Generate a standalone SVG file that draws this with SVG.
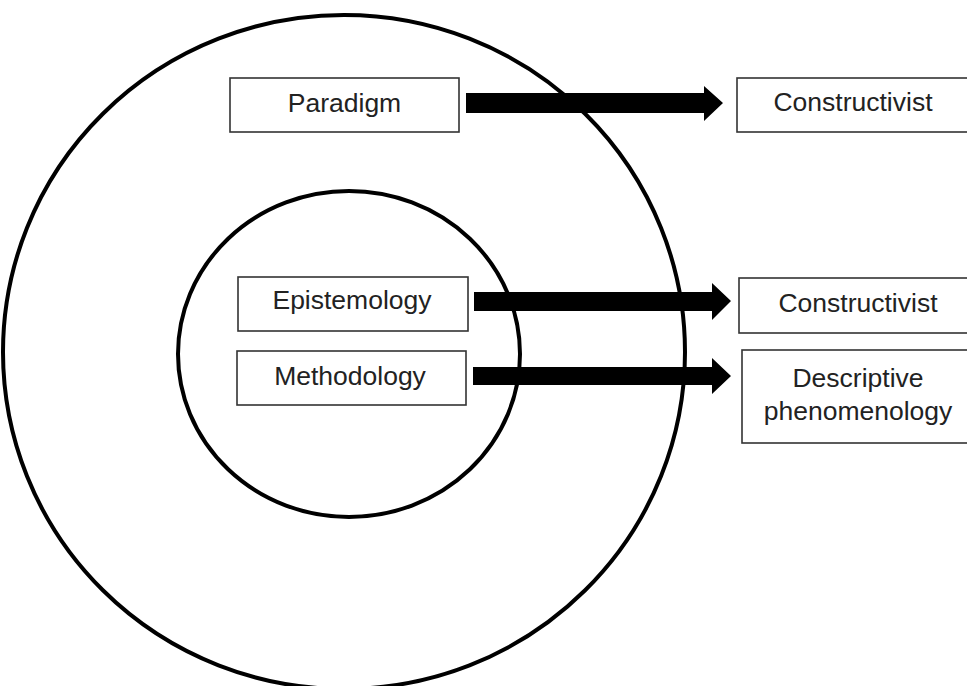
<svg xmlns="http://www.w3.org/2000/svg" width="967" height="686" viewBox="0 0 967 686">
<style>
.ring{fill:none;stroke:#000;stroke-width:4}
.box{fill:#fff;stroke:#333;stroke-width:1.6}
.lbl{font-family:"Liberation Sans",Arial,sans-serif;font-size:26.5px;fill:#222;text-anchor:middle}
.arr{fill:#000}
</style>
<rect width="967" height="686" fill="#fff"/>
<g id="outer-circle"><ellipse class="ring" cx="344" cy="352" rx="341" ry="337"/></g>
<g id="inner-circle"><ellipse class="ring" cx="349" cy="354" rx="171" ry="163"/></g>
<g id="connectors">
<polygon class="arr" points="466,93 704,93 704,86 723,103 704,121 704,113 466,113"/>
<polygon class="arr" points="474,292 712,292 712,283 731,301 712,320 712,311 474,311"/>
<polygon class="arr" points="473,367 712,367 712,358 731,376 712,394 712,385 473,385"/>
</g>
<g id="paradigm"><rect class="box" x="230" y="78" width="229" height="54"/><text class="lbl" x="344.5" y="112">Paradigm</text></g>
<g id="constructivist-1"><rect class="box" x="737" y="78" width="236" height="54"/><text class="lbl" x="853" y="111">Constructivist</text></g>
<g id="epistemology"><rect class="box" x="238" y="277" width="230" height="54"/><text class="lbl" x="352" y="309">Epistemology</text></g>
<g id="methodology"><rect class="box" x="237" y="351" width="229" height="54"/><text class="lbl" x="350" y="385">Methodology</text></g>
<g id="constructivist-2"><rect class="box" x="739" y="278" width="236" height="55"/><text class="lbl" x="858" y="312">Constructivist</text></g>
<g id="descriptive-phenomenology"><rect class="box" x="742" y="350" width="233" height="93"/><text class="lbl" x="858" y="387">Descriptive</text><text class="lbl" x="858" y="420">phenomenology</text></g>
</svg>
